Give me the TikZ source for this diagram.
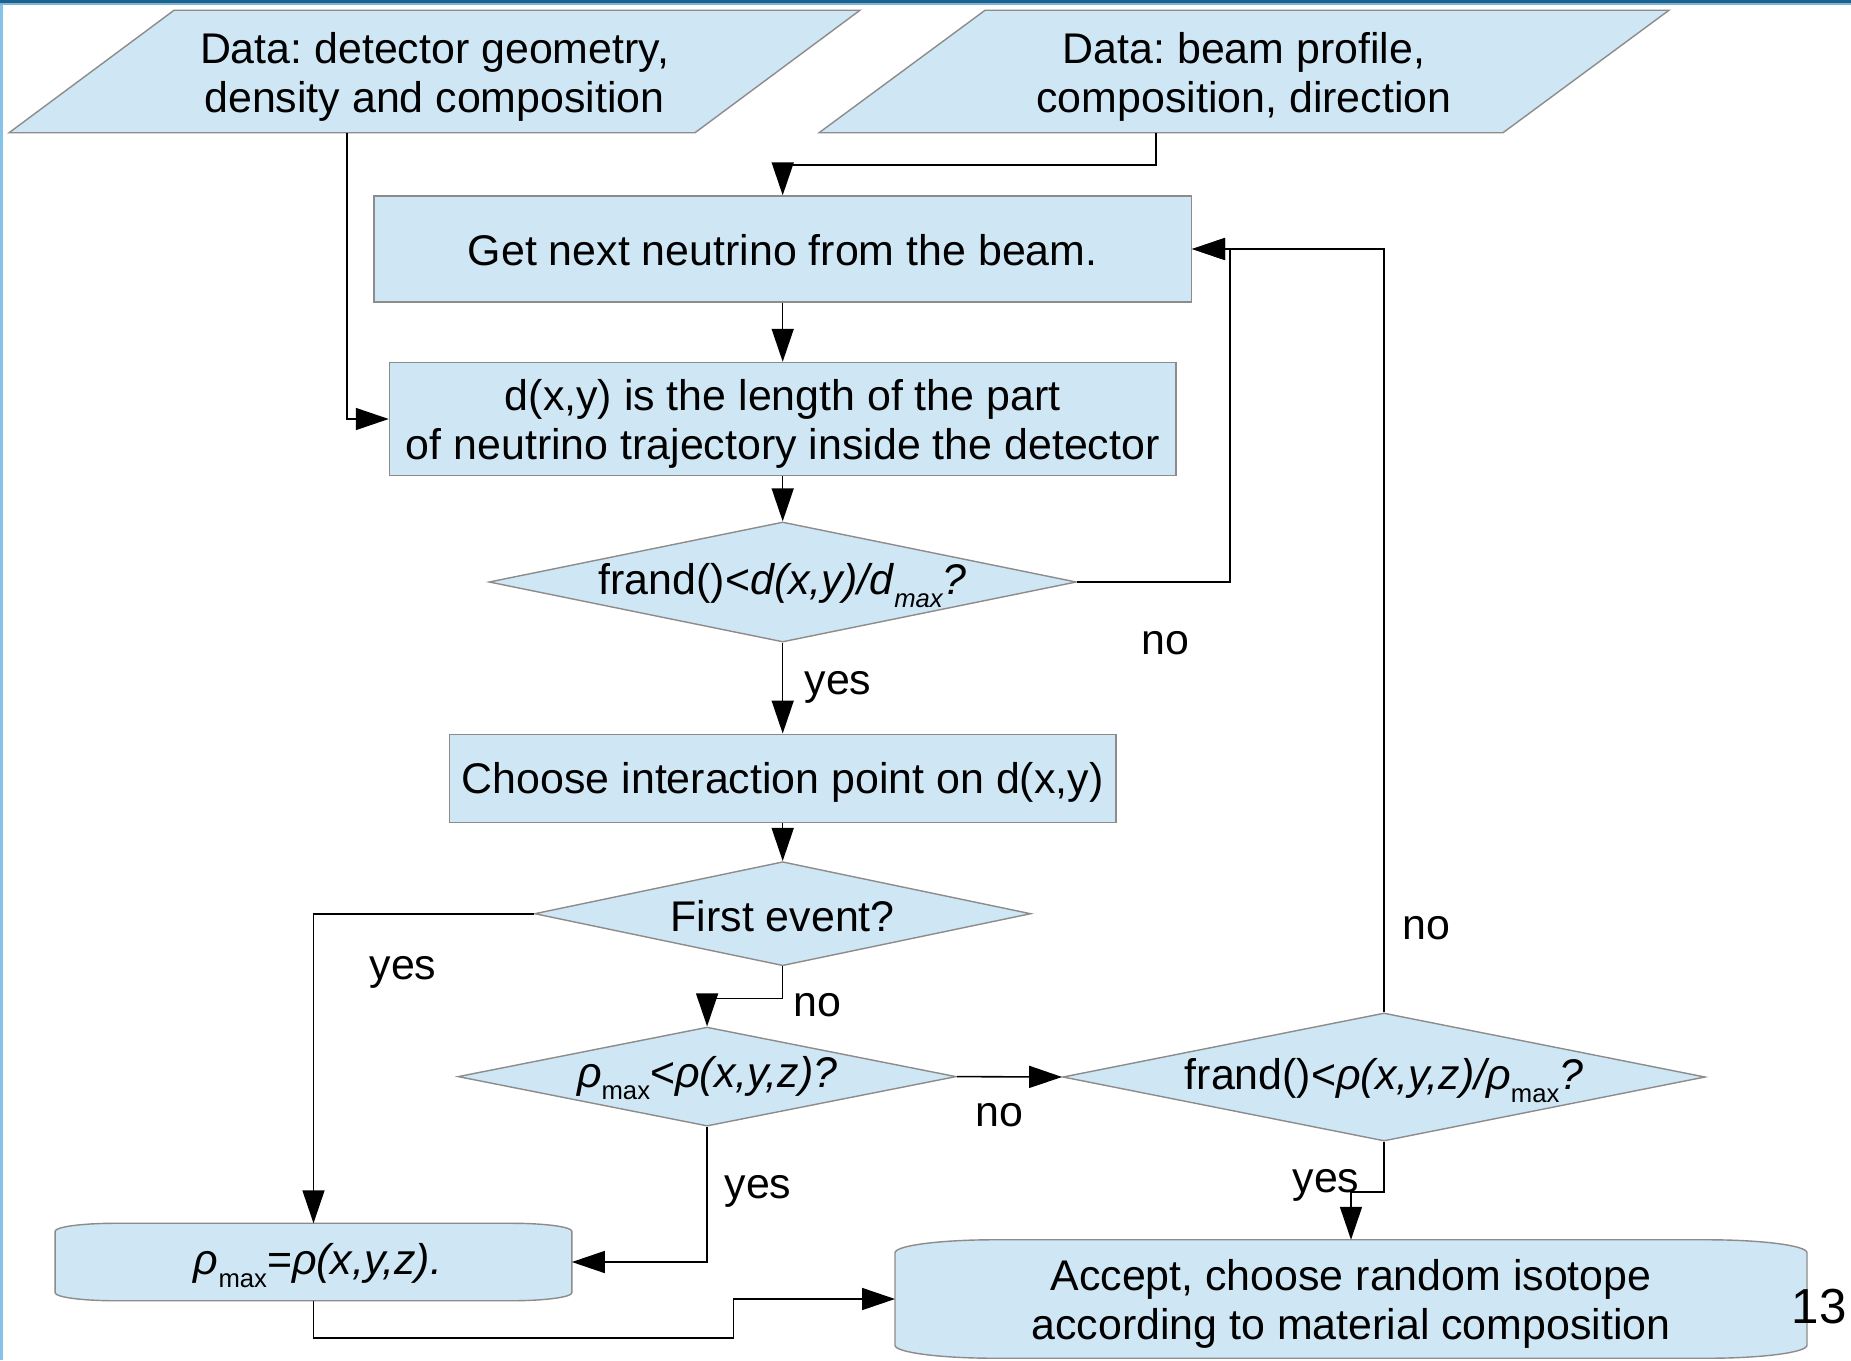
\documentclass[tikz,border=0pt]{standalone}
\usepackage{fontspec}
\setmainfont{Liberation Sans}
\usetikzlibrary{arrows.meta,calc,backgrounds,shapes.geometric}
\definecolor{boxfill}{HTML}{CFE6F4}
\definecolor{boxline}{HTML}{8C8C8C}
\definecolor{framedark}{HTML}{1B628F}
\definecolor{framemid}{HTML}{7DB3D6}
\definecolor{framelight}{HTML}{86C3EA}
\frenchspacing
% lowered small text for the "max" indices
\newcommand\lowsub[1]{\raisebox{-3.5pt}{\fontsize{7.3pt}{7.3pt}\selectfont #1}}
% set a text slightly lower while keeping its box size
\newcommand\dn[2][1pt]{\raisebox{-#1}[\height][\depth]{#2}}
\newcommand\twolines[2]{\dn[1.8pt]{\begin{tabular}{@{}c@{}}#1\\#2\end{tabular}}}

\begin{document}
\begin{tikzpicture}[x=0.01cm,y=-0.01cm,
  every node/.style={font=\fontsize{12.2pt}{14pt}\selectfont, inner sep=0pt, align=center},
  holder/.style={rectangle, draw=none, minimum width=#1},
  procbox/.style={rectangle, draw=boxline, fill=boxfill, line width=0.4pt},
  dia/.style={diamond, draw=boxline, fill=boxfill, line width=0.4pt, aspect=5},
  shapeline/.style={draw=boxline, fill=boxfill, line width=0.4pt},
  flow/.style={draw=black, line width=0.45pt, -{Triangle[length=0.33cm,width=0.22cm]}},
  lbl/.style={anchor=center}]

\useasboundingbox (0,0) rectangle (1851,1360);
\renewcommand\arraystretch{1}
\setlength\tabcolsep{0pt}

% slide frame
\fill[framelight] (0,0) rectangle (3,1360);
\fill[framemid] (0,0) rectangle (1851,5);
\fill[framedark] (0,0) rectangle (1851,2.5);

% data inputs (parallelograms drawn on the background layer)
\node[holder=8.49cm, minimum height=1.21cm] (p1) at (434.5,71.5)
  {\twolines{Data: detector geometry,}{density and composition}};
\node[holder=8.48cm, minimum height=1.21cm] (p2) at (1244,71.5)
  {\twolines{Data: beam profile,}{composition, direction}};

% process boxes
\node[procbox, minimum width=8.17cm, minimum height=1.06cm] (b1) at (782.7,249)
  {\dn[0.4pt]{Get next neutrino from the beam.}};
\node[procbox, minimum width=7.86cm, minimum height=1.13cm] (b2) at (782.7,419)
  {\twolines{d(x,y) is the length of the part}{of neutrino trajectory inside the detector}};
\node[dia, minimum width=5.87cm, minimum height=1.20cm] (d1) at (782.7,582)
  {\makebox[0pt]{\dn{frand()<\textit{d(x,y)/d}\lowsub{\itshape max}\textit{?}}}};
\node[procbox, minimum width=6.66cm, minimum height=0.885cm] (b3) at (782.7,778.5)
  {\dn{Choose interaction point on d(x,y)}};
\node[dia, minimum width=4.96cm, minimum height=1.04cm] (d2) at (782.7,913.7)
  {\makebox[0pt]{\dn[0.6pt]{First event?}}};
\node[dia, minimum width=4.98cm, minimum height=0.99cm] (d3) at (707.1,1076.6)
  {\makebox[0pt]{\dn[0.5pt]{\textit{ρ}\lowsub{max}<\textit{ρ(x,y,z)?}}}};
\node[dia, minimum width=6.42cm, minimum height=1.28cm] (d4) at (1384,1077)
  {\makebox[0pt]{\dn{frand()<\textit{ρ(x,y,z)/ρ}\lowsub{max}\textit{?}}}};

% terminal-like boxes (outlines drawn on the background layer)
\node[holder=5.15cm, minimum height=0.76cm] (rb) at (313.5,1262)
  {\hspace*{2.6pt}\dn{\textit{ρ}\lowsub{max}=\textit{ρ(x,y,z).}}};
\node[holder=9.10cm, minimum height=1.17cm] (acc) at (1351,1299)
  {\twolines{Accept, choose random isotope}{according to material composition}};

\begin{scope}[on background layer]
  \path[shapeline] ($(p1.north west)+(165,0)$) -- (p1.north east)
    -- ($(p1.south east)+(-165,0)$) -- (p1.south west) -- cycle;
  \path[shapeline] ($(p2.north west)+(166,0)$) -- (p2.north east)
    -- ($(p2.south east)+(-166,0)$) -- (p2.south west) -- cycle;
  \path[shapeline] ($(rb.north west)+(0,8)$)
      arc[start angle=180,end angle=90,x radius=0.6cm,y radius=0.08cm]
    -- ($(rb.north east)+(-60,0)$)
      arc[start angle=90,end angle=0,x radius=0.6cm,y radius=0.08cm]
    -- ($(rb.south east)+(0,-8)$)
      arc[start angle=0,end angle=-90,x radius=0.6cm,y radius=0.08cm]
    -- ($(rb.south west)+(60,0)$)
      arc[start angle=270,end angle=180,x radius=0.6cm,y radius=0.08cm]
    -- cycle;
  \path[shapeline] ($(acc.north west)+(0,13)$)
      arc[start angle=180,end angle=90,x radius=1.0cm,y radius=0.13cm]
    -- ($(acc.north east)+(-100,0)$)
      arc[start angle=90,end angle=0,x radius=1.0cm,y radius=0.13cm]
    -- ($(acc.south east)+(0,-13)$)
      arc[start angle=0,end angle=-90,x radius=1.0cm,y radius=0.13cm]
    -- ($(acc.south west)+(100,0)$)
      arc[start angle=270,end angle=180,x radius=1.0cm,y radius=0.13cm]
    -- cycle;
\end{scope}

% connectors
\draw[flow] ($(p1.south west)+(338,0)$) |- (b2.west);
\draw[flow] ($(p2.south west)+(337,0)$) -- ++(0,32) -| (b1.north);
\draw[flow] (b1.south) -- (b2.north);
\draw[flow] (b2.south) -- (d1.north);
\draw[flow] (d1.east) -- ++(153,0) |- (b1.east);
\draw[flow] (d4.north) |- (b1.east);
\draw[flow] (d1.south) -- (b3.north);
\draw[flow] (b3.south) -- (d2.north);
\draw[flow] (d2.west) -| (rb.north);
\draw[flow] (d2.south) -- ++(0,32) -| (d3.north);
\draw[flow] (d3.east) -- (d4.west);
\draw[flow] (d3.south) |- (rb.east);
\draw[flow] (d4.south) -- ++(0,50) -| (acc.north);
\draw[flow] (rb.south) -- ++(0,37) -- ++(420,0) |- (acc.west);

% branch labels
\node[lbl] (l1) at (1165,643) {no};
\node[lbl] (l2) at (838,687) {yes};
\node[lbl] (l3) at (1426,928) {no};
\node[lbl] (l4) at (403,972) {yes};
\node[lbl] (l5) at (817,1005) {no};
\node[lbl] (l6) at (999,1115) {no};
\node[lbl] (l7) at (758,1191) {yes};
\node[lbl] (l8) at (1326,1185) {yes};

% page number
\node[font=\fontsize{14pt}{14pt}\selectfont] (pg) at (1819,1307) {13};
\end{tikzpicture}
\end{document}
